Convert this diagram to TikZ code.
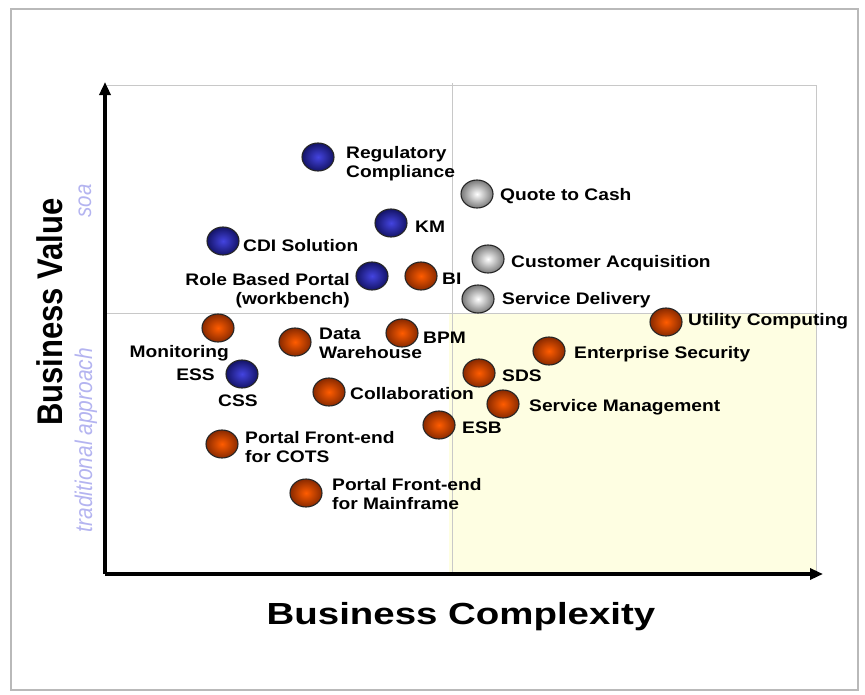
\documentclass[tikz,border=0pt]{standalone}
\usepackage{fontspec}
\usepackage{graphicx}
\usetikzlibrary{shapes.geometric,arrows.meta}
\newfontfamily\lblfont[FakeStretch=1.15]{Liberation Sans}
\newfontfamily\axfont[FakeStretch=1.26]{Liberation Sans}
\newfontfamily\sidefont{Liberation Sans}
\definecolor{orin}{HTML}{FF5C00}
\definecolor{orout}{HTML}{8A2A00}
\definecolor{blin}{HTML}{4444E0}
\definecolor{blout}{HTML}{141468}
\definecolor{grin}{HTML}{FFFFFF}
\definecolor{grout}{HTML}{7A7A7A}
\definecolor{paleyel}{HTML}{FEFEE2}
\definecolor{gridgray}{HTML}{C8C8C8}
\definecolor{lav}{HTML}{B4B4F0}
\tikzset{
  dotbase/.style={ellipse, minimum width=32pt, minimum height=28pt, inner sep=0pt, draw=black!85, line width=1.1pt},
  odot/.style={dotbase, inner color=orin, outer color=orout},
  bdot/.style={dotbase, inner color=blin, outer color=blout},
  gdot/.style={dotbase, inner color=grin, outer color=grout},
  lbl/.style={inner sep=0pt, font=\lblfont\bfseries\fontsize{16.7}{19}\selectfont},
}
\begin{document}
\begin{tikzpicture}[x=1pt,y=-1pt]
\useasboundingbox (0,0) rectangle (865,694);
% outer frame
\draw[gray!55, line width=1.5pt] (11,9) rectangle (858,690);
% yellow quadrant
\fill[paleyel] (449,313) rectangle (816,572);
% grid lines
\draw[gridgray, line width=1pt] (105,85) -- (816,85) -- (816,573);
\draw[gridgray, line width=1pt] (452,83) -- (452,573);
\draw[gridgray, line width=1pt] (105,313) -- (816,313);
% axes
\coordinate (orig) at (105,574);
\coordinate (ytip) at (105,82);
\coordinate (xtip) at (823,574);
\draw[line width=3.2pt, -{Triangle[length=13pt,width=11pt]}] (orig) -- (ytip);
\draw[line width=3.2pt, -{Triangle[length=13pt,width=11pt]}] (105,574) -- (xtip);
% axis titles
\node[inner sep=0pt, anchor=base, font=\axfont\bfseries\fontsize{30.5}{30}\selectfont] (xtitle) at (461,624) {Business Complexity};
\node[inner sep=0pt, anchor=base, rotate=90, font=\sidefont\bfseries\fontsize{31}{31}\selectfont] (ytitle) at (62,312) {\scalebox{1}[1.15]{Business Value}};
\node[inner sep=0pt, anchor=base, rotate=90, text=lav, font=\sidefont\itshape\fontsize{20.5}{20}\selectfont] (soa) at (91,201) {\scalebox{1}[1.15]{soa}};
\node[inner sep=0pt, anchor=base, rotate=90, text=lav, font=\sidefont\itshape\fontsize{21}{21}\selectfont] (trad) at (92,440) {\scalebox{1}[1.15]{traditional approach}};
% dots
\node[bdot] (rc) at (318,157) {};
\node[bdot] (km) at (391,223) {};
\node[bdot] (cdi) at (223,241) {};
\node[bdot] (rbp) at (372,276) {};
\node[odot] (bi) at (421,276) {};
\node[gdot] (qtc) at (477,194) {};
\node[gdot] (ca) at (488,259) {};
\node[gdot] (sd) at (478,299) {};
\node[odot] (uc) at (666,322) {};
\node[odot] (mon) at (218,328) {};
\node[odot] (dw) at (295,342) {};
\node[odot] (bpm) at (402,333) {};
\node[odot] (es) at (549,351) {};
\node[bdot] (ess) at (242,374) {};
\node[odot] (sds) at (479,373) {};
\node[odot] (col) at (329,392) {};
\node[odot] (sm) at (503,404) {};
\node[odot] (esb) at (439,425) {};
\node[odot] (pfc) at (222,444) {};
\node[odot] (pfm) at (306,493) {};
% labels
\node[lbl, anchor=north west, align=left] (rcl) at (346,146) {Regulatory\\Compliance};
\node[lbl, anchor=base west] (kml) at (415,232) {KM};
\node[lbl, anchor=base west] (cdil) at (243,251) {CDI Solution};
\node[lbl, anchor=north east, align=right] (rbpl) at (350,273) {Role Based Portal\\(workbench)};
\node[lbl, anchor=base west] (bil) at (442,284) {BI};
\node[lbl, anchor=base west] (qtcl) at (500,200) {Quote to Cash};
\node[lbl, anchor=base west] (cal) at (511,267) {Customer Acquisition};
\node[lbl, anchor=base west] (sdl) at (502,304) {Service Delivery};
\node[lbl, anchor=base west] (ucl) at (688,325) {Utility Computing};
\node[lbl, anchor=base east] (monl) at (229,357) {Monitoring};
\node[lbl, anchor=north west, align=left] (dwl) at (319,328) {Data\\Warehouse};
\node[lbl, anchor=base west] (bpml) at (423,343) {BPM};
\node[lbl, anchor=base west] (esl) at (574,358) {Enterprise Security};
\node[lbl, anchor=base east] (essl) at (215,380) {ESS};
\node[lbl, anchor=base west] (cssl) at (218,406) {CSS};
\node[lbl, anchor=base west] (sdsl) at (502,381) {SDS};
\node[lbl, anchor=base west] (coll) at (350,399) {Collaboration};
\node[lbl, anchor=base west] (sml) at (529,411) {Service Management};
\node[lbl, anchor=base west] (esbl) at (462,433) {ESB};
\node[lbl, anchor=north west, align=left] (pfcl) at (245,431) {Portal Front-end\\for COTS};
\node[lbl, anchor=north west, align=left] (pfml) at (332,478) {Portal Front-end\\for Mainframe};
\end{tikzpicture}
\end{document}
